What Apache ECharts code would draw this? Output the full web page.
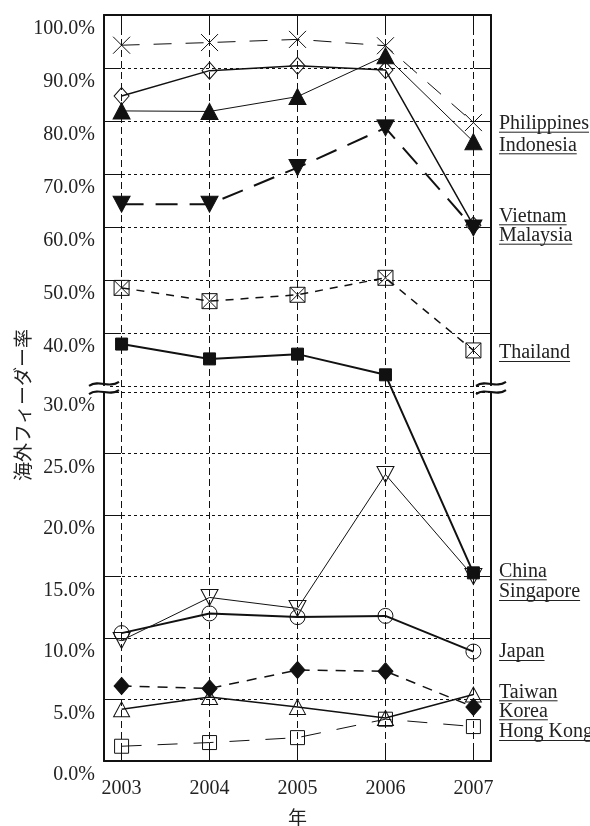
<!DOCTYPE html>
<html>
<head>
<meta charset="utf-8">
<script src="https://cdn.jsdelivr.net/npm/echarts@6/dist/echarts.min.js"></script>
<style>
  html, body { margin: 0; padding: 0; background: #fff; }
  #chart { width: 590px; height: 826px; }
</style>
</head>
<body>
<div id="chart"></div>
<script>
// Overseas feeder ratio by port, 2003-2007 (percent)
const years = [2003, 2004, 2005, 2006, 2007];

const philippines = [94.3, 94.8, 95.4, 94.2, 79.7];
const indonesia   = [81.9, 81.8, 84.6, 92.3, 76.1];
const vietnam     = [64.3, 64.3, 71.2, 78.7, 59.8];
const malaysia    = [84.7, 89.5, 90.4, 89.6, 60.3];
const thailand    = [48.5, 46.0, 47.2, 50.4, 36.7];
const china       = [37.9, 35.1, 36.0, 32.1, 15.3];
const singapore   = [9.8, 13.3, 12.4, 23.3, 15.0];
const japan       = [10.4, 12.0, 11.7, 11.8, 8.9];
const korea       = [6.1, 5.9, 7.4, 7.3, 4.4];
const taiwan      = [4.2, 5.2, 4.4, 3.5, 5.4];
const hongKong    = [1.2, 1.5, 1.9, 3.4, 2.8];

const lowerTicks = [0, 5, 10, 15, 20, 25, 30];
const upperTicks = [40, 50, 60, 70, 80, 90, 100];
const labelNames = ['Philippines', 'Indonesia', 'Vietnam', 'Malaysia', 'Thailand',
                    'China', 'Singapore', 'Japan', 'Taiwan', 'Korea', 'Hong Kong'];

// Broken value scale: 0-30 % at full scale, 30-100 % compressed above a small gap.
const BREAK_AT = 30;
const BREAK_GAP = 0.5;
const UPPER_SCALE = 5.3 / 12.3;
const toAxis = v => v <= BREAK_AT ? v : BREAK_AT + BREAK_GAP + (v - BREAK_AT) * UPPER_SCALE;
const fromAxis = d => d <= BREAK_AT + BREAK_GAP / 2 ? d : BREAK_AT + (d - BREAK_AT - BREAK_GAP) / UPPER_SCALE;

const AXIS_MAX = toAxis(100);
const SERIF = '"Liberation Serif", "DejaVu Serif", serif';
const INK = '#111';
const TEXT = '#222';

const CROSS = 'path://M0,0L16,16M16,0L0,16';
const BOXED_X = 'path://M0,0H14V14H0ZM0,0L14,14M14,0L0,14';

const styles = [
  { data: philippines, symbol: CROSS,      size: 17,       fill: 'none',  width: 1,   dash: [18, 14] },
  { data: indonesia,   symbol: 'triangle', size: [17, 16], fill: INK,     width: 1,   dash: 'solid' },
  { data: vietnam,     symbol: 'triangle', size: [17, 16], fill: INK,     width: 2,   dash: [22, 12], rotate: 180 },
  { data: malaysia,    symbol: 'diamond',  size: [15, 17], fill: 'none',  width: 1.5, dash: 'solid' },
  { data: thailand,    symbol: BOXED_X,    size: 15,       fill: 'none',  width: 1.5, dash: [8, 7] },
  { data: china,       symbol: 'rect',     size: 12,       fill: INK,     width: 2,   dash: 'solid' },
  { data: singapore,   symbol: 'triangle', size: [17, 16], fill: 'none',  width: 1,   dash: 'solid', rotate: 180 },
  { data: japan,       symbol: 'circle',   size: 15,       fill: 'none',  width: 2,   dash: 'solid' },
  { data: korea,       symbol: 'diamond',  size: [15, 17], fill: INK,     width: 1.5, dash: [10, 8] },
  { data: taiwan,      symbol: 'triangle', size: [16, 15], fill: 'none',  width: 1.5, dash: 'solid' },
  { data: hongKong,    symbol: 'rect',     size: 14,       fill: 'none',  width: 1,   dash: [20, 16] }
];

const lineSeries = styles.map((s, idx) => ({
  type: 'line',
  name: labelNames[idx],
  z: 3,
  data: years.map((y, i) => [y, toAxis(s.data[i])]),
  symbol: s.symbol,
  symbolSize: s.size,
  symbolRotate: s.rotate || 0,
  showAllSymbol: true,
  itemStyle: {
    color: s.fill === 'none' ? 'rgba(0,0,0,0)' : s.fill,
    borderColor: INK,
    borderWidth: 1
  },
  lineStyle: { color: INK, width: s.width, type: s.dash },
  emphasis: { disabled: true }
}));

// Grid lines drawn as mark lines on an empty helper series
const hGrid = [5, 10, 15, 20, 25, 30].map(v => ({ yAxis: toAxis(v) }))
  .concat([30.0001, 40, 50, 60, 70, 80, 90].map(v => ({ yAxis: toAxis(v) })));
const vGrid = years.map(y => ({ xAxis: y, lineStyle: { type: [7, 4] } }));

const gridSeries = {
  type: 'line',
  data: [],
  z: 1,
  silent: true,
  markLine: {
    silent: true,
    symbol: 'none',
    label: { show: false },
    animation: false,
    lineStyle: { color: INK, width: 1, type: [3, 3] },
    data: hGrid.concat(vGrid)
  }
};

const yTickValues = [5, 10, 15, 20, 25].concat([40, 50, 60, 70, 80, 90]).map(toAxis);
const yLabelValues = lowerTicks.concat(upperTicks).map(toAxis);

const chart = echarts.init(document.getElementById('chart'), null, { renderer: 'canvas' });

const grid = { left: 104, right: 99, top: 15, bottom: 65, containLabel: false, outerBoundsMode: 'none' };
const axisLine = { show: true, onZero: false, lineStyle: { color: INK, width: 2 } };

chart.setOption({
  animation: false,
  backgroundColor: '#fff',
  grid: grid,
  xAxis: [
    {
      type: 'value', min: 2002.8, max: 2007.2, position: 'bottom',
      axisLine: axisLine,
      axisTick: { show: true, inside: true, length: 16, customValues: years, lineStyle: { color: INK, width: 1 } },
      axisLabel: { customValues: years, margin: 18, fontFamily: SERIF, fontSize: 20, color: TEXT,
                   formatter: v => String(Math.round(v)) },
      splitLine: { show: false },
      name: '年', nameLocation: 'middle', nameGap: 47,
      nameTextStyle: { fontFamily: '"Noto Sans CJK JP", sans-serif', fontSize: 19, color: TEXT }
    },
    {
      type: 'value', min: 2002.8, max: 2007.2, position: 'top',
      axisLine: axisLine,
      axisTick: { show: true, inside: true, length: 14, customValues: years, lineStyle: { color: INK, width: 1 } },
      axisLabel: { show: false },
      splitLine: { show: false }
    }
  ],
  yAxis: [
    {
      type: 'value', min: 0, max: AXIS_MAX, position: 'left',
      axisLine: axisLine,
      axisTick: { show: true, inside: true, length: 17, customValues: yTickValues, lineStyle: { color: INK, width: 1 } },
      axisLabel: {
        customValues: yLabelValues, margin: 9, fontFamily: SERIF, fontSize: 20, color: TEXT,
        verticalAlign: 'top', lineHeight: 20, padding: [4, 0, 0, 0],
        formatter: d => fromAxis(d).toFixed(1) + '%'
      },
      splitLine: { show: false }
    },
    {
      type: 'value', min: 0, max: AXIS_MAX, position: 'right',
      axisLine: axisLine,
      axisTick: { show: true, inside: true, length: 17, customValues: yTickValues, lineStyle: { color: INK, width: 1 } },
      axisLabel: { show: false },
      splitLine: { show: false }
    }
  ],
  series: [gridSeries].concat(lineSeries)
});

// Decorations: axis break marks, country labels, value-axis title
const labelBaselines = [130.7, 152.3, 223.3, 242.7, 360, 578.3, 599, 659, 699.3, 718.3, 739];
const measure = document.createElement('canvas').getContext('2d');
measure.font = '20px "Liberation Serif"';

const graphics = [];
const yHi = chart.convertToPixel({ yAxisIndex: 0 }, toAxis(30.0001));
const yLo = chart.convertToPixel({ yAxisIndex: 0 }, toAxis(30));
const xLeft = chart.convertToPixel({ xAxisIndex: 0 }, 2002.8);
const xRight = chart.convertToPixel({ xAxisIndex: 0 }, 2007.2);

[xLeft, xRight].forEach(x => {
  graphics.push({
    type: 'rect', z: 100,
    shape: { x: x - 3, y: yHi, width: 6, height: yLo - yHi },
    style: { fill: '#fff' }
  });
  [yHi - 2, yLo].forEach(y => {
    graphics.push({
      type: 'bezierCurve', z: 101,
      shape: { x1: x - 15, y1: y + 2, cpx1: x - 5, cpy1: y - 5, cpx2: x + 5, cpy2: y + 5, x2: x + 15, y2: y - 2 },
      style: { stroke: INK, lineWidth: 2, fill: null }
    });
  });
});

labelNames.forEach((name, i) => {
  const x = 499;
  const base = labelBaselines[i];
  const w = measure.measureText(name).width;
  graphics.push({
    type: 'text', z: 100, x: x, y: base - 7,
    style: { text: name, font: '20px ' + SERIF, fill: TEXT, align: 'left', verticalAlign: 'middle' }
  });
  graphics.push({
    type: 'line', z: 100,
    shape: { x1: x, y1: base + 1.5, x2: x + w, y2: base + 1.5 },
    style: { stroke: TEXT, lineWidth: 1 }
  });
});

graphics.push({
  type: 'text', z: 100, x: 23, y: 405, rotation: Math.PI / 2,
  style: { text: '海外フィーダー率', font: '19px "Noto Sans CJK JP", sans-serif', fill: TEXT,
           align: 'center', verticalAlign: 'middle' }
});

chart.setOption({ graphic: graphics });
</script>
</body>
</html>
